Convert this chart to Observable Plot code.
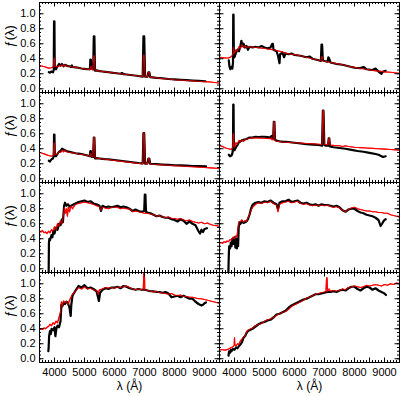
<!DOCTYPE html>
<html><head><meta charset="utf-8">
<script src="https://cdn.jsdelivr.net/npm/d3@7"></script>
<script src="https://cdn.jsdelivr.net/npm/@observablehq/plot@0.6"></script>
<style>body{margin:0;background:#fff}</style>
</head><body><div id="chart"></div>
<script>
// Wavelength (Å) and normalised flux pairs
const p1obs=[[3810,0.22],[3850,0.215],[3900,0.23],[3950,0.22],[3975,0.25],[3985,0.90],[3998,0.90],[4008,0.27],[4050,0.26],[4100,0.30],[4150,0.33],[4200,0.31],[4250,0.33],[4300,0.30],[4350,0.32],[4400,0.31],[4450,0.30],[4500,0.30],[4550,0.29],[4580,0.31],[4600,0.29],[4700,0.285],[4800,0.28],[4900,0.27],[5000,0.265],[5100,0.26],[5180,0.26],[5195,0.39],[5210,0.39],[5225,0.30],[5260,0.27],[5290,0.26],[5310,0.70],[5330,0.70],[5350,0.24],[5400,0.245],[5500,0.235],[5600,0.23],[5700,0.225],[5800,0.22],[5900,0.215],[6000,0.21],[6200,0.20],[6250,0.21],[6300,0.195],[6400,0.19],[6600,0.18],[6800,0.17],[6940,0.16],[6965,0.70],[6990,0.70],[7020,0.16],[7100,0.16],[7130,0.22],[7160,0.22],[7190,0.155],[7400,0.145],[7600,0.14],[7800,0.13],[8000,0.125],[8200,0.12],[8400,0.115],[8600,0.11],[8800,0.105],[9030,0.10]];
const p1mod=[[3500,0.31],[3600,0.30],[3700,0.29],[3800,0.275],[3900,0.28],[3960,0.29],[3985,0.41],[3998,0.41],[4010,0.30],[4100,0.29],[4150,0.31],[4200,0.30],[4250,0.32],[4300,0.30],[4350,0.32],[4400,0.30],[4500,0.30],[4600,0.29],[4700,0.285],[4800,0.28],[4900,0.27],[5000,0.265],[5100,0.26],[5180,0.255],[5200,0.30],[5215,0.30],[5235,0.26],[5280,0.25],[5310,0.44],[5330,0.44],[5350,0.25],[5400,0.245],[5500,0.235],[5600,0.23],[5700,0.225],[5800,0.22],[5900,0.215],[6000,0.21],[6200,0.20],[6400,0.19],[6600,0.18],[6800,0.17],[6940,0.16],[6965,0.45],[6990,0.45],[7020,0.16],[7100,0.16],[7130,0.22],[7160,0.22],[7190,0.155],[7400,0.145],[7600,0.135],[7800,0.13],[8000,0.12],[8200,0.115],[8400,0.11],[8600,0.105],[8800,0.10],[9000,0.095],[9200,0.09],[9400,0.08],[9500,0.075]];
const p2obs=[[3810,0.38],[3830,0.30],[3860,0.26],[3900,0.29],[3930,0.27],[3950,0.35],[3958,0.99],[3968,0.99],[3978,0.45],[4000,0.42],[4050,0.48],[4100,0.52],[4150,0.50],[4200,0.58],[4230,0.64],[4260,0.57],[4300,0.60],[4350,0.55],[4400,0.57],[4450,0.52],[4500,0.56],[4600,0.55],[4700,0.56],[4800,0.55],[4900,0.57],[5000,0.55],[5100,0.54],[5200,0.55],[5260,0.60],[5280,0.60],[5300,0.52],[5400,0.50],[5450,0.44],[5500,0.34],[5520,0.46],[5600,0.48],[5650,0.42],[5700,0.47],[5800,0.46],[5900,0.47],[6000,0.45],[6200,0.44],[6400,0.42],[6500,0.43],[6600,0.40],[6800,0.38],[6880,0.37],[6900,0.59],[6920,0.59],[6945,0.38],[7000,0.37],[7100,0.36],[7130,0.42],[7160,0.40],[7200,0.35],[7400,0.33],[7600,0.32],[7800,0.30],[8000,0.28],[8200,0.275],[8300,0.29],[8400,0.26],[8600,0.25],[8700,0.27],[8800,0.23],[8900,0.20],[8950,0.23],[9040,0.24]];
const p2mod=[[3500,0.42],[3600,0.415],[3700,0.41],[3800,0.41],[3900,0.43],[3950,0.46],[3965,0.55],[3980,0.48],[4000,0.47],[4050,0.52],[4100,0.50],[4150,0.56],[4200,0.54],[4250,0.59],[4300,0.55],[4350,0.57],[4400,0.55],[4500,0.56],[4600,0.555],[4700,0.55],[4800,0.55],[4900,0.54],[5000,0.54],[5100,0.53],[5200,0.525],[5300,0.52],[5400,0.51],[5500,0.50],[5600,0.49],[5700,0.475],[5800,0.465],[5900,0.46],[6000,0.455],[6200,0.44],[6400,0.42],[6600,0.40],[6800,0.38],[6880,0.375],[6905,0.43],[6925,0.43],[6950,0.37],[7000,0.365],[7100,0.36],[7200,0.35],[7400,0.335],[7600,0.32],[7800,0.30],[8000,0.285],[8200,0.27],[8400,0.26],[8600,0.245],[8800,0.235],[9000,0.225],[9200,0.22],[9400,0.21],[9500,0.205]];
const p3obs=[[3810,0.24],[3850,0.23],[3900,0.26],[3950,0.27],[3975,0.30],[3985,0.59],[3998,0.59],[4010,0.32],[4050,0.30],[4100,0.33],[4150,0.36],[4200,0.37],[4250,0.40],[4300,0.39],[4350,0.38],[4400,0.37],[4500,0.36],[4600,0.35],[4700,0.34],[4800,0.335],[4900,0.33],[5000,0.32],[5100,0.31],[5180,0.30],[5195,0.37],[5210,0.37],[5225,0.30],[5260,0.29],[5290,0.29],[5310,0.55],[5330,0.55],[5350,0.27],[5400,0.275],[5500,0.27],[5600,0.265],[5700,0.26],[5800,0.26],[6000,0.25],[6200,0.24],[6400,0.23],[6600,0.22],[6800,0.21],[6940,0.205],[6965,0.61],[6990,0.61],[7020,0.20],[7100,0.205],[7130,0.27],[7160,0.27],[7190,0.20],[7400,0.195],[7600,0.19],[7800,0.185],[8000,0.18],[8200,0.18],[8400,0.175],[8600,0.17],[8800,0.17],[9050,0.165]];
const p3mod=[[3500,0.35],[3600,0.34],[3700,0.325],[3800,0.31],[3900,0.30],[3960,0.31],[3985,0.48],[3998,0.48],[4010,0.32],[4100,0.33],[4150,0.36],[4200,0.35],[4250,0.38],[4300,0.36],[4350,0.38],[4400,0.36],[4500,0.35],[4600,0.345],[4700,0.34],[4800,0.33],[4900,0.325],[5000,0.32],[5100,0.31],[5180,0.30],[5200,0.34],[5215,0.34],[5235,0.30],[5280,0.29],[5310,0.55],[5330,0.55],[5350,0.28],[5400,0.275],[5500,0.27],[5600,0.265],[5700,0.26],[5800,0.255],[6000,0.245],[6200,0.235],[6400,0.225],[6600,0.215],[6800,0.205],[6940,0.20],[6965,0.61],[6990,0.61],[7020,0.20],[7100,0.20],[7130,0.27],[7160,0.27],[7190,0.195],[7400,0.19],[7600,0.185],[7800,0.18],[8000,0.175],[8200,0.17],[8400,0.165],[8600,0.16],[8800,0.155],[9000,0.15],[9200,0.145],[9400,0.14],[9500,0.135]];
const p4obs=[[3810,0.32],[3850,0.30],[3900,0.31],[3930,0.34],[3950,0.40],[3958,0.99],[3968,0.99],[3978,0.45],[4000,0.38],[4050,0.42],[4100,0.45],[4150,0.49],[4200,0.50],[4300,0.52],[4400,0.53],[4500,0.55],[4600,0.55],[4700,0.56],[4800,0.555],[4900,0.56],[5000,0.56],[5100,0.555],[5200,0.55],[5230,0.57],[5250,0.54],[5290,0.54],[5310,0.76],[5330,0.76],[5350,0.52],[5400,0.51],[5500,0.50],[5600,0.495],[5800,0.49],[6000,0.48],[6200,0.47],[6400,0.46],[6600,0.455],[6800,0.45],[6920,0.44],[6945,0.91],[6965,0.91],[6995,0.45],[7050,0.44],[7120,0.44],[7140,0.54],[7160,0.54],[7180,0.43],[7300,0.42],[7500,0.41],[7700,0.40],[7900,0.385],[8100,0.37],[8300,0.36],[8500,0.345],[8700,0.33],[8800,0.32],[8900,0.30],[8950,0.29],[9040,0.30]];
const p4mod=[[3500,0.445],[3600,0.43],[3700,0.41],[3800,0.40],[3900,0.39],[3940,0.42],[3955,0.60],[3968,0.60],[3980,0.44],[4000,0.42],[4050,0.48],[4100,0.46],[4150,0.51],[4200,0.49],[4250,0.52],[4300,0.50],[4350,0.52],[4400,0.53],[4500,0.54],[4600,0.545],[4800,0.545],[5000,0.54],[5200,0.535],[5230,0.55],[5250,0.52],[5290,0.52],[5310,0.76],[5330,0.76],[5350,0.51],[5400,0.50],[5500,0.495],[5600,0.49],[5800,0.485],[6000,0.48],[6200,0.475],[6400,0.47],[6600,0.465],[6800,0.46],[6920,0.455],[6945,0.91],[6965,0.91],[6995,0.46],[7050,0.455],[7120,0.455],[7140,0.54],[7160,0.54],[7180,0.45],[7300,0.445],[7500,0.44],[7600,0.43],[7700,0.44],[7800,0.43],[8000,0.42],[8200,0.415],[8400,0.41],[8600,0.405],[8800,0.40],[9000,0.395],[9200,0.39],[9400,0.385],[9500,0.38]];
const p5obs=[[3805,-0.06],[3815,0.35],[3830,0.40],[3850,0.38],[3900,0.45],[3930,0.42],[3960,0.50],[4000,0.47],[4050,0.55],[4100,0.52],[4150,0.60],[4200,0.58],[4250,0.66],[4280,0.62],[4320,0.84],[4350,0.88],[4400,0.84],[4450,0.86],[4500,0.83],[4600,0.85],[4700,0.87],[4800,0.89],[4900,0.90],[5000,0.91],[5100,0.89],[5200,0.90],[5300,0.87],[5400,0.86],[5500,0.84],[5550,0.77],[5600,0.84],[5700,0.82],[5800,0.83],[5900,0.82],[6000,0.83],[6100,0.84],[6200,0.82],[6300,0.83],[6400,0.82],[6500,0.80],[6600,0.77],[6700,0.79],[6800,0.77],[6900,0.76],[6990,0.77],[7010,0.99],[7030,0.99],[7050,0.76],[7100,0.75],[7200,0.74],[7300,0.72],[7400,0.70],[7500,0.71],[7600,0.69],[7700,0.68],[7800,0.68],[7900,0.66],[8000,0.65],[8100,0.63],[8200,0.66],[8300,0.64],[8400,0.60],[8500,0.63],[8600,0.60],[8700,0.58],[8800,0.50],[8850,0.47],[8900,0.52],[8950,0.49],[9000,0.53],[9080,0.54]];
const p5mod=[[3500,0.50],[3550,0.49],[3600,0.51],[3650,0.48],[3700,0.49],[3750,0.47],[3800,0.50],[3850,0.48],[3900,0.52],[3950,0.50],[4000,0.56],[4050,0.52],[4100,0.60],[4150,0.57],[4200,0.64],[4250,0.60],[4300,0.72],[4330,0.82],[4360,0.74],[4400,0.80],[4430,0.70],[4460,0.82],[4500,0.76],[4550,0.84],[4600,0.80],[4700,0.86],[4800,0.87],[4900,0.88],[5000,0.89],[5100,0.88],[5200,0.87],[5300,0.86],[5400,0.84],[5500,0.83],[5550,0.78],[5600,0.82],[5700,0.81],[5800,0.80],[5900,0.82],[6000,0.82],[6100,0.82],[6200,0.80],[6300,0.81],[6400,0.80],[6500,0.80],[6600,0.76],[6700,0.77],[6800,0.76],[6900,0.75],[7000,0.74],[7100,0.74],[7200,0.73],[7300,0.72],[7400,0.70],[7500,0.71],[7600,0.69],[7700,0.68],[7800,0.69],[7900,0.67],[8000,0.67],[8100,0.66],[8200,0.67],[8300,0.65],[8400,0.64],[8500,0.65],[8600,0.63],[8700,0.62],[8800,0.61],[8900,0.62],[9000,0.60],[9100,0.61],[9200,0.59],[9300,0.58],[9400,0.575],[9500,0.565]];
const p6obs=[[3795,-0.06],[3805,0.10],[3820,0.30],[3850,0.27],[3880,0.35],[3900,0.30],[3930,0.40],[3960,0.33],[4000,0.42],[4030,0.28],[4060,0.40],[4080,0.27],[4100,0.38],[4120,0.30],[4140,0.55],[4170,0.62],[4200,0.60],[4250,0.63],[4300,0.61],[4400,0.63],[4450,0.66],[4500,0.72],[4550,0.80],[4600,0.85],[4700,0.88],[4800,0.89],[4900,0.88],[5000,0.90],[5100,0.89],[5200,0.91],[5300,0.88],[5400,0.86],[5450,0.80],[5500,0.88],[5600,0.90],[5700,0.90],[5800,0.92],[5900,0.89],[6000,0.90],[6100,0.91],[6200,0.88],[6300,0.87],[6400,0.88],[6500,0.86],[6600,0.85],[6700,0.86],[6800,0.84],[6900,0.86],[7000,0.85],[7100,0.85],[7200,0.84],[7300,0.83],[7400,0.84],[7500,0.82],[7600,0.78],[7700,0.76],[7800,0.79],[7900,0.80],[8000,0.80],[8100,0.77],[8200,0.75],[8300,0.74],[8400,0.72],[8500,0.71],[8600,0.70],[8700,0.68],[8800,0.65],[8870,0.57],[8920,0.60],[8960,0.63],[9000,0.65],[9040,0.66]];
const p6mod=[[3500,0.34],[3550,0.35],[3600,0.34],[3650,0.36],[3700,0.35],[3750,0.37],[3800,0.36],[3850,0.39],[3900,0.38],[3950,0.42],[4000,0.40],[4050,0.44],[4080,0.42],[4110,0.52],[4140,0.62],[4200,0.63],[4250,0.65],[4300,0.62],[4350,0.64],[4400,0.63],[4450,0.68],[4500,0.72],[4550,0.78],[4600,0.82],[4700,0.86],[4800,0.88],[4900,0.87],[5000,0.89],[5100,0.88],[5200,0.90],[5300,0.87],[5400,0.85],[5450,0.76],[5500,0.86],[5600,0.88],[5700,0.89],[5800,0.90],[5900,0.88],[6000,0.89],[6100,0.90],[6200,0.87],[6300,0.86],[6400,0.87],[6500,0.85],[6600,0.84],[6700,0.85],[6800,0.84],[6900,0.85],[7000,0.84],[7100,0.85],[7200,0.83],[7300,0.82],[7400,0.83],[7500,0.81],[7600,0.78],[7700,0.76],[7800,0.79],[7900,0.81],[8000,0.82],[8100,0.80],[8200,0.79],[8300,0.78],[8400,0.77],[8500,0.77],[8600,0.76],[8700,0.76],[8800,0.75],[8900,0.75],[9000,0.74],[9100,0.74],[9200,0.72],[9300,0.71],[9400,0.70],[9500,0.69]];
const p7obs=[[3795,0.10],[3805,0.15],[3820,0.30],[3850,0.37],[3880,0.33],[3900,0.40],[3950,0.38],[4000,0.42],[4030,0.30],[4060,0.40],[4100,0.44],[4150,0.42],[4200,0.50],[4230,0.72],[4260,0.70],[4300,0.74],[4350,0.73],[4400,0.76],[4450,0.74],[4500,0.68],[4540,0.57],[4560,0.72],[4600,0.84],[4700,0.91],[4800,0.97],[4900,0.95],[5000,0.98],[5100,0.94],[5200,0.95],[5300,0.93],[5400,0.90],[5450,0.82],[5480,0.77],[5520,0.88],[5600,0.92],[5700,0.94],[5800,0.93],[5900,0.95],[6000,0.95],[6100,0.96],[6200,0.94],[6300,0.97],[6400,0.96],[6500,0.94],[6600,0.93],[6700,0.92],[6800,0.93],[6900,0.92],[7000,0.92],[7100,0.91],[7200,0.90],[7300,0.90],[7400,0.89],[7500,0.89],[7600,0.88],[7700,0.89],[7800,0.87],[7900,0.82],[8000,0.83],[8100,0.84],[8200,0.82],[8300,0.84],[8400,0.82],[8500,0.80],[8600,0.80],[8700,0.76],[8800,0.73],[8900,0.71],[8950,0.72],[9000,0.74],[9050,0.75]];
const p7mod=[[3500,0.39],[3550,0.40],[3600,0.39],[3650,0.41],[3700,0.40],[3750,0.42],[3800,0.43],[3850,0.46],[3900,0.44],[3950,0.48],[4000,0.46],[4050,0.50],[4100,0.48],[4150,0.55],[4200,0.62],[4230,0.76],[4260,0.70],[4300,0.77],[4350,0.75],[4400,0.76],[4450,0.72],[4500,0.78],[4550,0.82],[4600,0.86],[4700,0.90],[4800,0.95],[4900,0.93],[5000,0.96],[5100,0.93],[5200,0.94],[5300,0.92],[5400,0.91],[5450,0.86],[5500,0.92],[5600,0.93],[5700,0.95],[5800,0.94],[5900,0.95],[6000,0.94],[6100,0.96],[6200,0.95],[6300,0.96],[6400,0.97],[6500,0.95],[6600,0.93],[6700,0.92],[6800,0.93],[6900,0.92],[6960,0.93],[6980,1.2],[6995,1.2],[7010,0.92],[7100,0.91],[7200,0.90],[7300,0.89],[7400,0.90],[7500,0.88],[7600,0.88],[7700,0.87],[7800,0.86],[7900,0.87],[8000,0.85],[8100,0.84],[8200,0.85],[8300,0.83],[8400,0.83],[8500,0.82],[8600,0.82],[8700,0.81],[8800,0.80],[8900,0.80],[9000,0.79],[9100,0.78],[9200,0.77],[9300,0.76],[9400,0.75],[9500,0.74]];
const p8obs=[[3800,0.04],[3820,0.10],[3850,0.08],[3880,0.12],[3900,0.10],[3950,0.13],[4000,0.12],[4050,0.15],[4100,0.14],[4150,0.17],[4200,0.19],[4250,0.22],[4300,0.28],[4350,0.30],[4400,0.34],[4450,0.37],[4500,0.38],[4600,0.40],[4700,0.43],[4800,0.46],[4900,0.48],[5000,0.49],[5100,0.51],[5200,0.52],[5300,0.55],[5400,0.59],[5500,0.60],[5600,0.62],[5700,0.64],[5800,0.68],[5900,0.71],[6000,0.73],[6100,0.75],[6200,0.77],[6300,0.79],[6400,0.80],[6500,0.82],[6600,0.84],[6700,0.86],[6800,0.86],[6900,0.87],[7000,0.88],[7100,0.89],[7200,0.89],[7300,0.90],[7400,0.89],[7500,0.91],[7600,0.92],[7700,0.91],[7800,0.94],[7900,0.96],[8000,0.96],[8100,0.93],[8200,0.91],[8300,0.94],[8400,0.96],[8500,0.95],[8600,0.92],[8700,0.94],[8800,0.91],[8900,0.89],[9000,0.87],[9050,0.85]];
const p8mod=[[3500,0.12],[3600,0.12],[3700,0.115],[3800,0.13],[3850,0.14],[3900,0.15],[3950,0.16],[3990,0.18],[4000,0.28],[4010,0.19],[4050,0.17],[4100,0.20],[4150,0.19],[4200,0.24],[4250,0.26],[4300,0.29],[4350,0.30],[4400,0.36],[4450,0.38],[4500,0.39],[4600,0.41],[4700,0.44],[4800,0.46],[4900,0.47],[5000,0.50],[5100,0.52],[5200,0.53],[5300,0.55],[5400,0.58],[5500,0.60],[5600,0.62],[5700,0.63],[5800,0.66],[5900,0.70],[6000,0.72],[6100,0.74],[6200,0.76],[6300,0.78],[6400,0.81],[6500,0.82],[6600,0.84],[6700,0.86],[6800,0.87],[6900,0.88],[7000,0.89],[7050,0.90],[7070,1.08],[7085,1.08],[7100,0.90],[7150,0.93],[7200,0.90],[7300,0.91],[7400,0.90],[7500,0.91],[7600,0.93],[7700,0.92],[7800,0.95],[7900,0.96],[8000,0.97],[8100,0.96],[8200,0.95],[8300,0.96],[8400,0.98],[8500,0.97],[8600,0.98],[8700,0.99],[8800,0.98],[8900,0.97],[9000,0.99],[9100,0.98],[9200,1.00],[9300,0.99],[9400,1.01],[9500,1.00]];

const xTicks=[4000,5000,6000,7000,8000,9000];
const yTicks=[0,0.2,0.4,0.6,0.8,1.0];
const xLabel="λ (Å)";
const yLabel="ƒ(λ)";

const panels=[
  {col:0,row:0,obs:p1obs,mod:p1mod},{col:1,row:0,obs:p2obs,mod:p2mod},
  {col:0,row:1,obs:p3obs,mod:p3mod},{col:1,row:1,obs:p4obs,mod:p4mod},
  {col:0,row:2,obs:p5obs,mod:p5mod},{col:1,row:2,obs:p6obs,mod:p6mod},
  {col:0,row:3,obs:p7obs,mod:p7mod},{col:1,row:3,obs:p8obs,mod:p8mod}
];
const toRows=(p,key)=>p[key].map(([w,f])=>({col:p.col,row:p.row,w,f}));
const obsRows=panels.flatMap(p=>toRows(p,"obs"));
const modRows=panels.flatMap(p=>toRows(p,"mod"));

const W=400,H=396,mL=38,mR=1,mT=1,mB=33;
const fh=(H-mT-mB)/4, fw=(W-mL-mR)/2;
const xMinor=d3.range(3500,9501,100), xMajor=d3.range(3500,9501,500);
const yMinor=d3.range(-0.05,1.1501,0.05), yMajor=d3.range(0,1.1501,0.2);
const tickStyle={stroke:"black",strokeWidth:1};

const chart=Plot.plot({
  width:W,height:H,marginLeft:mL,marginRight:mR,marginTop:mT,marginBottom:mB,
  x:{domain:[3500,9500]},
  y:{domain:[-0.05,1.15]},
  fx:{domain:[0,1],padding:0,axis:null},
  fy:{domain:[0,1,2,3],padding:0,axis:null},
  style:{fontFamily:"'Liberation Sans', Arial, Helvetica, sans-serif",fontSize:"11px",color:"black",background:"white"},
  marks:[
    Plot.line(modRows,{x:"w",y:"f",fx:"col",fy:"row",stroke:"#ff0000",strokeWidth:1.2,clip:true}),
    Plot.line(obsRows,{x:"w",y:"f",fx:"col",fy:"row",stroke:"black",strokeWidth:2.2,clip:true}),
    Plot.line(modRows,{x:"w",y:"f",fx:"col",fy:"row",stroke:"#ff0000",strokeWidth:1.1,strokeOpacity:0.75,clip:true}),
    Plot.frame({stroke:"black",strokeWidth:1}),
    Plot.ruleX(xMinor,{x:d=>d,insetTop:fh-2.5,...tickStyle}),
    Plot.ruleX(xMinor,{x:d=>d,insetBottom:fh-2.5,...tickStyle}),
    Plot.ruleX(xMajor,{x:d=>d,insetTop:fh-5,...tickStyle}),
    Plot.ruleX(xMajor,{x:d=>d,insetBottom:fh-5,...tickStyle}),
    Plot.ruleY(yMinor,{y:d=>d,insetRight:fw-2.5,...tickStyle}),
    Plot.ruleY(yMinor,{y:d=>d,insetLeft:fw-2.5,...tickStyle}),
    Plot.ruleY(yMajor,{y:d=>d,insetRight:fw-5,...tickStyle}),
    Plot.ruleY(yMajor,{y:d=>d,insetLeft:fw-5,...tickStyle}),
    Plot.axisX({ticks:xTicks,tickSize:0,tickPadding:6,tickFormat:d=>String(d),label:null,fontSize:11}),
    Plot.axisY({ticks:yTicks,tickSize:0,tickPadding:4,tickFormat:d=>d.toFixed(1),label:null,fontSize:11}),
    Plot.text([0,1],{fx:d=>d,fy:()=>3,text:()=>xLabel,frameAnchor:"bottom",dy:27,fontSize:12}),
    Plot.text([0,1,2,3],{fy:d=>d,fx:()=>0,text:()=>yLabel,frameAnchor:"left",dx:-30,rotate:-90,fontSize:13})
  ]
});
document.getElementById("chart").appendChild(chart);
</script></body></html>
